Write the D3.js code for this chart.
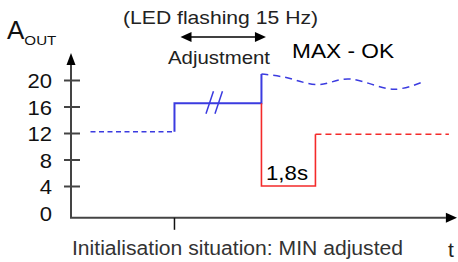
<!DOCTYPE html>
<html>
<head>
<meta charset="utf-8">
<script src="https://cdn.jsdelivr.net/npm/d3@7"></script>
<style>
  body { margin: 0; background: #fff; }
  text { font-family: "Liberation Sans", Arial, sans-serif; }
</style>
</head>
<body>
<div id="chart"></div>
<script>
// values (time in seconds, output level)
var yTicks = [0, 4, 8, 12, 16, 20];
var initLevel = [{t: 0.65, v: 12.2}, {t: 3.45, v: 12.2}];
var adjustStep = [{t: 3.45, v: 12.2}, {t: 3.45, v: 16.5}, {t: 6.35, v: 16.5}, {t: 6.35, v: 20.9}];
var maxWave = [{t: 6.35, v: 20.9}, {t: 7.1, v: 20.45}, {t: 8.2, v: 19.3}, {t: 9.3, v: 20.15},
  {t: 10.75, v: 18.6}, {t: 11.8, v: 19.85}];
var minDrop = [{t: 6.35, v: 16.5}, {t: 6.35, v: 4}, {t: 8.15, v: 4}, {t: 8.15, v: 11.8}];
var minLevel = [{t: 8.15, v: 11.8}, {t: 12.6, v: 11.8}];
var adjustSpan = [3.65, 6.5];
var markerTime = 3.45;

var width = 458, height = 262;
var svg = d3.select("#chart").append("svg")
  .attr("width", width)
  .attr("height", height);

var x = d3.scaleLinear().domain([0, 12.87]).range([71, 457]);
var y = d3.scaleLinear().domain([0, 20]).range([212.5, 80]);

var axisColor = "#444", blue = "#3b3be0", red = "#f42a2a";

// y axis
svg.append("line")
  .attr("x1", x(0)).attr("x2", x(0))
  .attr("y1", y(-0.7)).attr("y2", 62)
  .attr("stroke", axisColor).attr("stroke-width", 2);
svg.append("path")
  .attr("d", d3.line()([[x(0) - 4.5, 65], [x(0), 53], [x(0) + 4.5, 65]]))
  .attr("fill", "#000");

var yAxis = svg.append("g")
  .attr("transform", "translate(" + x(0) + ",0)")
  .call(d3.axisLeft(y).tickValues(yTicks).tickSize(8).tickPadding(10).tickFormat(d3.format("d")));
yAxis.select(".domain").remove();
yAxis.selectAll(".tick line")
  .attr("x1", -7).attr("x2", 9)
  .attr("stroke", axisColor).attr("stroke-width", 2)
  .style("display", function (d) { return d === 0 ? "none" : null; });
yAxis.selectAll(".tick text")
  .attr("x", -19)
  .attr("dy", "0.36em")
  .style("font-size", "21px")
  .style("fill", "#111")
  .attr("textLength", function () { return this.getComputedTextLength() * 1.05; })
  .attr("lengthAdjust", "spacingAndGlyphs");

// x axis
svg.append("line")
  .attr("x1", x(0) - 1).attr("x2", x(12.5))
  .attr("y1", y(-0.8)).attr("y2", y(-0.8))
  .attr("stroke", axisColor).attr("stroke-width", 2);
svg.append("path")
  .attr("d", d3.line()([[x(12.5), y(-0.8) - 5], [x(12.87), y(-0.8)], [x(12.5), y(-0.8) + 5]]))
  .attr("fill", "#000");
svg.append("line")
  .attr("x1", x(markerTime)).attr("x2", x(markerTime))
  .attr("y1", y(-0.8)).attr("y2", y(-0.8) + 12)
  .attr("stroke", "#111").attr("stroke-width", 1.5);

var line = d3.line()
  .x(function (d) { return x(d.t); })
  .y(function (d) { return y(d.v); });

svg.append("path").datum(initLevel)
  .attr("d", line).attr("fill", "none")
  .attr("stroke", blue).attr("stroke-width", 1.5).attr("stroke-dasharray", "5,3.5");

svg.append("path").datum(adjustStep)
  .attr("d", line).attr("fill", "none")
  .attr("stroke", blue).attr("stroke-width", 2);

svg.append("path").datum(maxWave)
  .attr("d", line.curve(d3.curveCardinal)).attr("fill", "none")
  .attr("stroke", blue).attr("stroke-width", 1.5).attr("stroke-dasharray", "7,5");
line.curve(d3.curveLinear);

svg.append("path").datum(minDrop)
  .attr("d", line).attr("fill", "none")
  .attr("stroke", red).attr("stroke-width", 1.6);

svg.append("path").datum(minLevel)
  .attr("d", line).attr("fill", "none")
  .attr("stroke", red).attr("stroke-width", 1.5).attr("stroke-dasharray", "6,4");

// break marks on the adjustment step
[4.5, 4.8].forEach(function (t) {
  svg.append("line")
    .attr("x1", x(t)).attr("y1", y(14.9))
    .attr("x2", x(t + 0.25)).attr("y2", y(18.3))
    .attr("stroke", blue).attr("stroke-width", 1.5);
});

// adjustment double arrow
var ay = 37;
svg.append("line")
  .attr("x1", x(adjustSpan[0]) + 6).attr("x2", x(adjustSpan[1]) - 6)
  .attr("y1", ay).attr("y2", ay)
  .attr("stroke", "#000").attr("stroke-width", 1.5);
svg.append("path")
  .attr("d", d3.line()([[x(adjustSpan[0]) + 11, ay - 5], [x(adjustSpan[0]), ay], [x(adjustSpan[0]) + 11, ay + 5]]))
  .attr("fill", "#000");
svg.append("path")
  .attr("d", d3.line()([[x(adjustSpan[1]) - 11, ay - 5], [x(adjustSpan[1]), ay], [x(adjustSpan[1]) - 11, ay + 5]]))
  .attr("fill", "#000");

// labels
var label = svg.append("text").attr("x", 7).attr("y", 39).style("fill", "#111");
label.append("tspan").style("font-size", "26px").text("A");
label.append("tspan").attr("dy", 6).style("font-size", "13px")
  .attr("textLength", 32).attr("lengthAdjust", "spacingAndGlyphs").text("OUT");

function addText(tx, ty, size, color, len, str) {
  return svg.append("text").attr("x", tx).attr("y", ty)
    .style("font-size", size + "px").style("fill", color)
    .attr("textLength", len).attr("lengthAdjust", "spacingAndGlyphs")
    .text(str);
}

addText(123, 24, 19, "#222", 195, "(LED flashing 15 Hz)");
addText(168, 64, 19, "#222", 102, "Adjustment");
addText(292, 58, 20.5, "#000", 102, "MAX - OK");
addText(266, 180, 21, "#000", 42, "1,8s");
addText(72, 255, 19.5, "#333", 331, "Initialisation situation: MIN adjusted");
svg.append("text").attr("x", 451).attr("y", 257).attr("text-anchor", "middle")
  .style("font-size", "21px").style("fill", "#222").text("t");
</script>
</body>
</html>
